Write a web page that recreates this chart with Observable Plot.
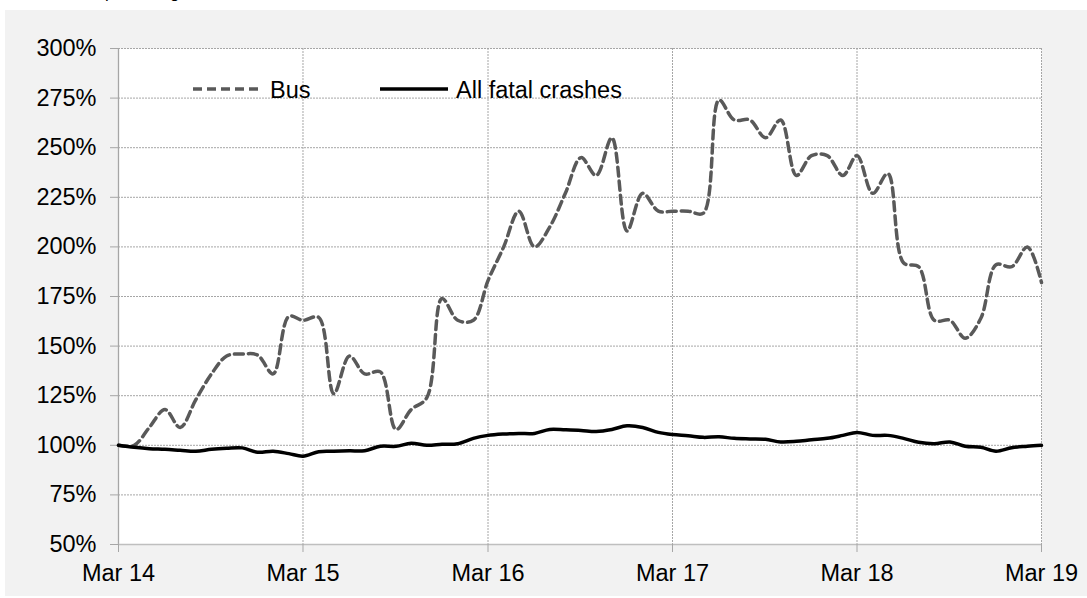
<!DOCTYPE html>
<html>
<head>
<meta charset="utf-8">
<script src="https://cdn.jsdelivr.net/npm/d3@7"></script>
<script src="https://cdn.jsdelivr.net/npm/@observablehq/plot@0.6"></script>
<style>
  html, body { margin: 0; padding: 0; background: #ffffff; }
  body { width: 1087px; height: 598px; position: relative; overflow: hidden; font-family: "Liberation Sans", Arial, sans-serif; }
  #topnote { position: absolute; top: 0; left: 0; width: 1087px; height: 10px; overflow: hidden; }
  #topnote span { position: absolute; top: -16px; left: 105px; font-size: 16.7px; line-height: 18px; color: #000; white-space: nowrap; }
  #panel { position: absolute; top: 10px; left: 5px; width: 1082px; height: 586px; background: #f2f2f2; }
  #legend { position: absolute; top: 0; left: 0; pointer-events: none; }
</style>
</head>
<body>
<div id="topnote"><span>percentage</span></div>
<div id="panel"></div>
<script>
// ---- Data (monthly, Mar 2014 – Mar 2019), index: Mar 2014 = 100% ----
const months = [
  "2014-03","2014-04","2014-05","2014-06","2014-07","2014-08","2014-09","2014-10","2014-11","2014-12",
  "2015-01","2015-02","2015-03","2015-04","2015-05","2015-06","2015-07","2015-08","2015-09","2015-10",
  "2015-11","2015-12","2016-01","2016-02","2016-03","2016-04","2016-05","2016-06","2016-07","2016-08",
  "2016-09","2016-10","2016-11","2016-12","2017-01","2017-02","2017-03","2017-04","2017-05","2017-06",
  "2017-07","2017-08","2017-09","2017-10","2017-11","2017-12","2018-01","2018-02","2018-03","2018-04",
  "2018-05","2018-06","2018-07","2018-08","2018-09","2018-10","2018-11","2018-12","2019-01","2019-02",
  "2019-03"
];
const bus = [
  100, 100, 109, 118, 109, 123, 136, 145, 146, 145.5,
  136, 165, 163, 164.5, 126, 145, 136, 137, 108, 118,
  124, 174, 163, 163, 183, 200, 218, 200, 210, 227,
  245, 236, 255, 208, 227, 218, 218, 218, 217, 274,
  264, 264, 255, 264, 236, 246, 246, 236, 246, 227,
  237, 192, 190, 163, 163, 154, 164, 191, 190, 200,
  182
];
const allFatal = [
  100, 99, 98.3, 98, 97.5, 97, 98, 98.5, 98.7, 96.5,
  97, 95.8, 94.5, 96.8, 97, 97.2, 97.3, 99.5, 99.5, 101,
  100, 100.5, 100.8, 103.5, 105, 105.7, 106, 106, 108, 107.8,
  107.5, 107, 108, 109.8, 109, 106.5, 105.4, 104.8, 104, 104.3,
  103.5, 103.2, 103, 101.7, 102, 102.8, 103.5, 105, 106.5, 105,
  105, 103.5, 101.5, 100.8, 101.7, 99.5, 99, 97, 98.8, 99.5,
  100
];
const seriesNames = ["Bus", "All fatal crashes"];
const xTickMonths = ["2014-03","2015-03","2016-03","2017-03","2018-03","2019-03"];
const xTickLabels = ["Mar 14","Mar 15","Mar 16","Mar 17","Mar 18","Mar 19"];
const yTicks = [50, 75, 100, 125, 150, 175, 200, 225, 250, 275, 300];

// ---- Build table ----
const parse = d3.utcParse("%Y-%m");
const rows = months.map((m, i) => ({date: parse(m), bus: bus[i], all: allFatal[i]}));
const xTicks = xTickMonths.map(parse);
const labelFor = new Map(xTicks.map((d, i) => [+d, xTickLabels[i]]));

const gridStyle = {stroke: "#a6a6a6", strokeOpacity: 1, strokeWidth: 1, strokeDasharray: "2,1"};
const FONT = "'Liberation Sans', Arial, sans-serif";

const chart = Plot.plot({
  width: 1082,
  height: 586,
  marginLeft: 113,
  marginRight: 46,
  marginTop: 38,
  marginBottom: 52,
  style: {background: "transparent", fontFamily: FONT, fontSize: "23.5px", color: "#000", overflow: "visible"},
  x: {type: "utc", domain: [xTicks[0], xTicks[xTicks.length - 1]]},
  y: {domain: [50, 300]},
  marks: [
    Plot.frame({fill: "#ffffff", stroke: null}),
    Plot.gridX(xTicks, gridStyle),
    Plot.gridY(yTicks, gridStyle),
    Plot.ruleX([xTicks[0]], {stroke: "#a6a6a6", strokeWidth: 1.3}),
    Plot.ruleY([50], {stroke: "#bfbfbf", strokeWidth: 1.5}),
    Plot.axisY(yTicks, {tickSize: 8, tickPadding: 14, tickFormat: d => d + "%", stroke: "#a6a6a6", fill: "#000", label: null, fontSize: 23.5}),
    Plot.axisX(xTicks, {tickSize: 8, tickPadding: 12, tickFormat: d => labelFor.get(+d), stroke: "#a6a6a6", fill: "#000", label: null, fontSize: 23.5}),
    Plot.line(rows, {x: "date", y: "bus", stroke: "#595959", strokeWidth: 3.5, strokeDasharray: "9,5", curve: "catmull-rom"}),
    Plot.line(rows, {x: "date", y: "all", stroke: "#000000", strokeWidth: 3.5, curve: "catmull-rom"})
  ]
});
const panel = document.getElementById("panel");
panel.appendChild(chart);

// ---- Legend (inside plot area, top-left) ----
const ns = "http://www.w3.org/2000/svg";
const leg = document.createElementNS(ns, "svg");
leg.setAttribute("id", "legend");
leg.setAttribute("width", 1082);
leg.setAttribute("height", 120);
const items = [
  {name: seriesNames[0], x0: 188, x1: 258, dash: "9,5", stroke: "#595959", tx: 265},
  {name: seriesNames[1], x0: 375, x1: 443, dash: null, stroke: "#000000", tx: 451}
];
for (const it of items) {
  const l = document.createElementNS(ns, "line");
  l.setAttribute("x1", it.x0); l.setAttribute("x2", it.x1);
  l.setAttribute("y1", 79); l.setAttribute("y2", 79);
  l.setAttribute("stroke", it.stroke); l.setAttribute("stroke-width", 3.5);
  if (it.dash) l.setAttribute("stroke-dasharray", it.dash);
  leg.appendChild(l);
  const t = document.createElementNS(ns, "text");
  t.setAttribute("x", it.tx); t.setAttribute("y", 87.7);
  t.setAttribute("font-family", FONT); t.setAttribute("font-size", 23.5);
  t.setAttribute("fill", "#000");
  t.textContent = it.name;
  leg.appendChild(t);
}
panel.appendChild(leg);
</script>
</body>
</html>
